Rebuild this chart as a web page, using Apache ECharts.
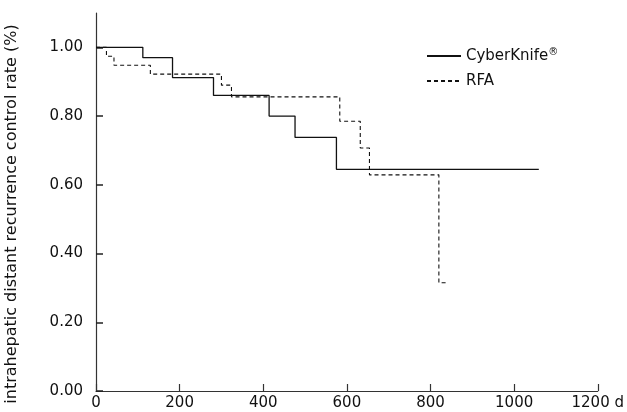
<!DOCTYPE html>
<html><head><meta charset="utf-8">
<script src="https://cdn.jsdelivr.net/npm/echarts@6/dist/echarts.min.js"></script>
<style>html,body{margin:0;padding:0;background:#fff}#c{width:627px;height:412px}</style>
</head><body><div id="c"></div>
<script>
const xTicks = [0, 200, 400, 600, 800, 1000, 1200];
const yTicks = [0, 0.2, 0.4, 0.6, 0.8, 1.0];
const cyberDays = [0, 112, 183, 281, 414, 476, 575, 1059];
const cyberRate = [1.00, 0.970, 0.912, 0.860, 0.800, 0.738, 0.645, 0.645];
const rfaDays = [0, 25, 43, 130, 300, 324, 583, 632, 654, 820, 843];
const rfaRate = [1.00, 0.974, 0.948, 0.922, 0.890, 0.856, 0.785, 0.707, 0.629, 0.315, 0.315];
const seriesNames = ['CyberKnife', 'RFA'];
const yName = 'intrahepatic distant recurrence control rate (%)';

const font = 'DejaVu Sans';
const chart = echarts.init(document.getElementById('c'));
chart.setOption({
  animation: false,
  grid: {left: 96, right: 25, top: 13, bottom: 21},
  legend: {
    orient: 'vertical', left: 421, top: 42, itemWidth: 34, itemHeight: 10, itemGap: 10,
    itemStyle: {opacity: 0},
    textStyle: {fontFamily: font, fontSize: 15, color: '#111',
      rich: {sup: {fontFamily: font, fontSize: 10, color: '#111', verticalAlign: 'top', padding: [0, 0, 8, 0]}}},
    formatter: n => n === 'CyberKnife' ? 'CyberKnife{sup|\u00AE}' : n,
    data: seriesNames
  },
  xAxis: {
    type: 'value', min: 0, max: 1200, interval: 200,
    axisLine: {lineStyle: {color: '#333', width: 1.2}},
    axisTick: {show: true, inside: true, length: 7, lineStyle: {color: '#333', width: 1.2}},
    splitLine: {show: false},
    axisLabel: {fontFamily: font, fontSize: 15, color: '#111', margin: 5,
      formatter: v => v === 1200 ? '1200 d' : String(v)}
  },
  yAxis: {
    type: 'value', min: 0, max: 1.1, interval: 0.2,
    axisLine: {show: true, lineStyle: {color: '#333', width: 1.2}},
    axisTick: {show: true, inside: false, length: -7, lineStyle: {color: '#222', width: 1.5}},
    splitLine: {show: false},
    axisLabel: {fontFamily: font, fontSize: 15, color: '#111', margin: 13,
      showMaxLabel: false, formatter: v => v > 1.05 ? '' : v.toFixed(2)}
  },
  graphic: [{
    type: 'text', x: 12, y: 214, rotation: Math.PI / 2,
    style: {text: yName, fontFamily: font, fontSize: 16, fill: '#111', align: 'center', verticalAlign: 'middle'}
  }],
  series: [
    {name: seriesNames[0], type: 'line', step: 'end', symbol: 'none',
     lineStyle: {color: '#111', width: 1.3},
     itemStyle: {color: '#111'},
     data: cyberDays.map((d, i) => [d, cyberRate[i]])},
    {name: seriesNames[1], type: 'line', step: 'end', symbol: 'none',
     lineStyle: {color: '#111', width: 1.1, type: [4, 3]},
     itemStyle: {color: '#111'},
     data: rfaDays.map((d, i) => [d, rfaRate[i]])}
  ]
});
</script></body></html>
